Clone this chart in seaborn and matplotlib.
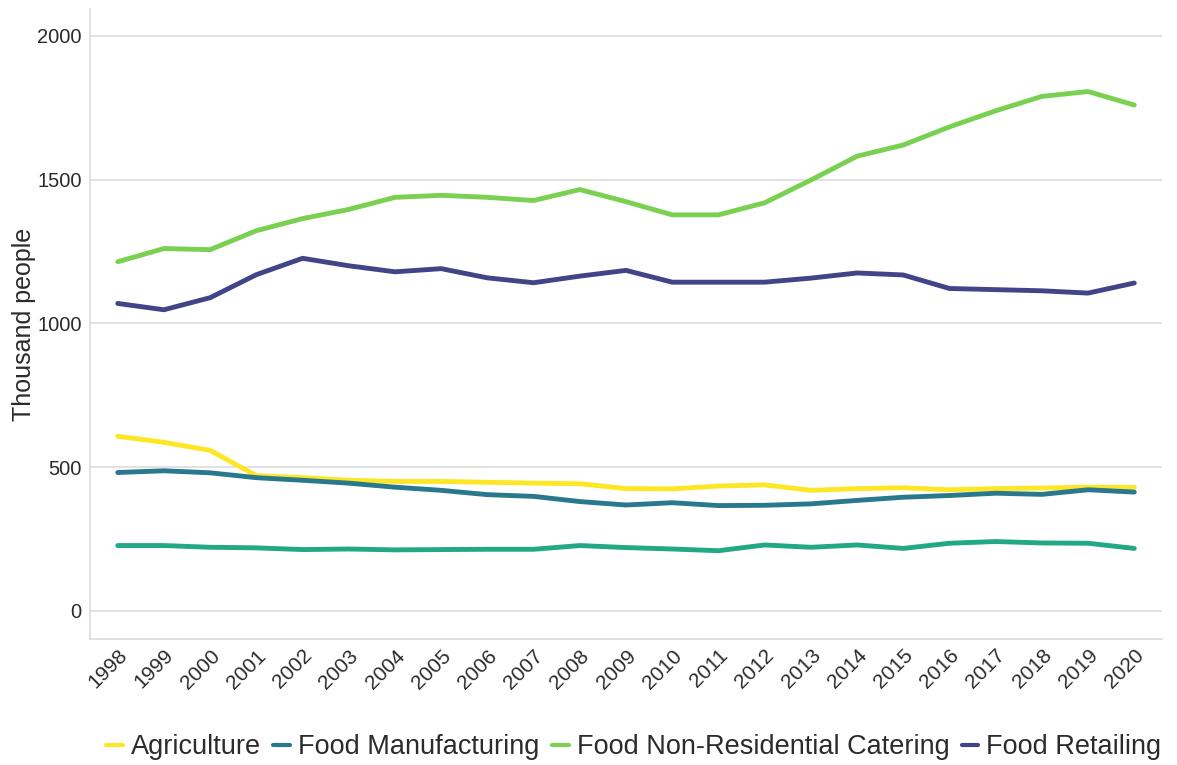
import pandas as pd
import matplotlib.pyplot as plt
import seaborn as sns

# data (thousand people)
years = list(range(1998, 2021))
agriculture = [607, 586, 558, 470, 463, 454, 450, 450, 447, 444, 442, 425,
               424, 434, 438, 419, 425, 428, 421, 425, 427, 430, 429]
manufacturing = [481, 487, 480, 463, 454, 444, 430, 419, 404, 398, 380, 368,
                 376, 366, 367, 372, 384, 395, 401, 409, 405, 421, 413]
catering = [1214, 1260, 1256, 1322, 1364, 1396, 1438, 1445, 1438, 1427, 1465, 1423,
            1377, 1377, 1419, 1498, 1581, 1620, 1683, 1739, 1789, 1806, 1759]
retailing = [1069, 1047, 1089, 1169, 1226, 1200, 1179, 1190, 1158, 1141, 1164, 1184,
             1143, 1143, 1143, 1157, 1175, 1168, 1121, 1117, 1113, 1105, 1140]
wholesaling = [227, 227, 221, 219, 213, 215, 212, 213, 214, 214, 227, 220,
               215, 209, 229, 221, 229, 217, 235, 241, 236, 235, 217]

sectors = ['Agriculture', 'Food Manufacturing', 'Food Non-Residential Catering',
           'Food Retailing', 'Food Wholesaling']
series = [agriculture, manufacturing, catering, retailing, wholesaling]
colors = ['#FDE725', '#2A788E', '#7AD151', '#414487', '#22A884']

df = pd.DataFrame({
    'year': years * len(sectors),
    'sector': [s for s in sectors for _ in years],
    'people': [v for vals in series for v in vals],
})

sns.set_theme(style="white")
plt.rcParams['font.family'] = ['Liberation Sans', 'DejaVu Sans']
text_col = '#2b2b2b'
grid_col = '#d9d9d9'

fig = plt.figure(figsize=(11.77, 7.65), dpi=100)
ax = fig.add_axes([90 / 1177, 1 - 639 / 765, (1162 - 90) / 1177, (639 - 9) / 765])

sns.lineplot(data=df, x='year', y='people', hue='sector', hue_order=sectors,
             palette=dict(zip(sectors, colors)), linewidth=3.5, ax=ax)

ax.set_xlim(1997.4, 2020.6)
ax.set_ylim(-98, 2093)
ax.set_yticks([0, 500, 1000, 1500, 2000])
ax.set_xticks(years)
ax.set_xticklabels([str(y) for y in years], rotation=45, ha='right', va='top',
                   rotation_mode='anchor')
ax.tick_params(axis='both', length=0, labelcolor=text_col)
ax.tick_params(axis='y', pad=6, labelsize=14.5)
ax.tick_params(axis='x', pad=5, labelsize=15)

ax.grid(axis='y', color=grid_col, linewidth=1.1)
ax.grid(axis='x', visible=False)
ax.set_axisbelow(True)
for side in ['top', 'right']:
    ax.spines[side].set_visible(False)
for side in ['left', 'bottom']:
    ax.spines[side].set_color(grid_col)
    ax.spines[side].set_linewidth(1.1)

ax.set_xlabel('')
ax.set_ylabel('Thousand people', fontsize=18, color=text_col, labelpad=1)

# legend along the bottom; the original only shows the first four keys
handles, labels = ax.get_legend_handles_labels()
ax.get_legend().remove()
for h in handles:
    h.set_linewidth(3)
fig.legend(handles[:4], labels[:4], loc='center left',
           bbox_to_anchor=(106 / 1177, 18 / 765),
           ncol=4, frameon=False, fontsize=19.5, handlelength=0.62,
           handletextpad=0.3, columnspacing=0.45, borderpad=0, borderaxespad=0,
           labelcolor=text_col)

fig.savefig('out.png', dpi=100)
plt.close(fig)
